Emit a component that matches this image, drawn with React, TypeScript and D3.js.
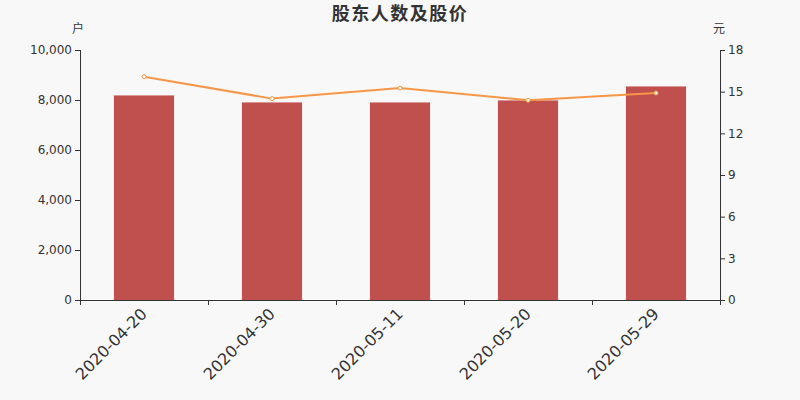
import { useMemo } from 'react';
import * as d3 from 'd3';

const dates = ['2020-04-20', '2020-04-30', '2020-05-11', '2020-05-20', '2020-05-29'];
const holders = [8200, 7920, 7920, 8000, 8560];
const prices = [16.08, 14.5, 15.26, 14.38, 14.9];
const leftTicks = [0, 2000, 4000, 6000, 8000, 10000];
const rightTicks = [0, 3, 6, 9, 12, 15, 18];

const FONT = "'DejaVu Sans', 'Noto Sans CJK SC', sans-serif";
const CJK = "'Noto Sans CJK SC', sans-serif";
const INK = '#333';

export default function App() {
  const width = 800;
  const height = 400;
  const margin = { top: 50, right: 80, bottom: 100, left: 80 };
  const innerW = width - margin.left - margin.right;
  const innerH = height - margin.top - margin.bottom;

  const { x, yL, yR, linePath } = useMemo(() => {
    const x = d3.scaleBand().domain(dates).range([0, innerW]).paddingInner(0).paddingOuter(0);
    const yL = d3.scaleLinear().domain([0, 10000]).range([innerH, 0]);
    const yR = d3.scaleLinear().domain([0, 18]).range([innerH, 0]);
    const line = d3
      .line<number>()
      .x((_, i) => (x(dates[i]) ?? 0) + x.bandwidth() / 2)
      .y((d) => yR(d));
    return { x, yL, yR, linePath: line(prices) ?? '' };
  }, [innerW, innerH]);

  const barW = x.bandwidth() * 0.47;

  return (
    <svg
      width={width}
      height={height}
      style={{ display: 'block', position: 'absolute', left: 0, top: 0, background: '#f8f8f8' }}
    >
      <rect width={width} height={height} fill='#f8f8f8' />
      <text
        x={400}
        y={20}
        textAnchor='middle'
        fontSize={18}
        letterSpacing={1.5}
        fontWeight='bold'
        fill={INK}
        fontFamily={CJK}
      >
        股东人数及股价
      </text>
      <text x={78} y={33} textAnchor='middle' fontSize={12} fill={INK} fontFamily={CJK}>
        户
      </text>
      <text x={719} y={33} textAnchor='middle' fontSize={12} fill={INK} fontFamily={CJK}>
        元
      </text>
      <g transform={`translate(${margin.left},${margin.top})`} fontFamily={FONT}>
        {/* Bars */}
        {holders.map((v, i) => {
          const cx = (x(dates[i]) ?? 0) + x.bandwidth() / 2;
          return (
            <g key={dates[i]}>
              <rect x={cx - barW / 2} y={yL(v)} width={barW} height={innerH - yL(v)} fill='#c0504d' />
              <line x1={cx - barW / 2} x2={cx + barW / 2} y1={yL(v) + 0.5} y2={yL(v) + 0.5} stroke='#d99694' strokeWidth={1} />
            </g>
          );
        })}

        {/* Line */}
        <path d={linePath} fill='none' stroke='#f79646' strokeWidth={2} />
        {prices.map((v, i) => (
          <circle
            key={dates[i]}
            cx={(x(dates[i]) ?? 0) + x.bandwidth() / 2}
            cy={yR(v)}
            r={2}
            fill='#fff'
            stroke='#f79646'
            strokeWidth={1}
          />
        ))}

        {/* Left axis */}
        <line x1={0.5} x2={0.5} y1={0} y2={innerH} stroke={INK} />
        {leftTicks.map((t) => (
          <g key={t} transform={`translate(0,${yL(t)})`}>
            <line x1={-5} x2={0} y1={0.5} y2={0.5} stroke={INK} />
            <text x={-8} dy='0.35em' textAnchor='end' fontSize={12} fill={INK}>
              {d3.format(',')(t)}
            </text>
          </g>
        ))}

        {/* Right axis */}
        <line x1={innerW + 0.5} x2={innerW + 0.5} y1={0} y2={innerH} stroke={INK} />
        {rightTicks.map((t) => (
          <g key={t} transform={`translate(${innerW},${yR(t)})`}>
            <line x1={0} x2={5} y1={0.5} y2={0.5} stroke={INK} />
            <text x={8} dy='0.35em' textAnchor='start' fontSize={12} fill={INK}>
              {t}
            </text>
          </g>
        ))}

        {/* Bottom axis */}
        <line x1={0} x2={innerW} y1={innerH + 0.5} y2={innerH + 0.5} stroke={INK} />
        {[...dates.map((d) => x(d) ?? 0), innerW].map((p, i) => (
          <line key={i} x1={p + 0.5} x2={p + 0.5} y1={innerH} y2={innerH + 5} stroke={INK} />
        ))}
        {dates.map((d) => {
          const cx = (x(d) ?? 0) + x.bandwidth() / 2;
          return (
            <text
              key={d}
              transform={`translate(${cx},${innerH + 11}) rotate(-45)`}
              textAnchor='end'
              dy='0.35em'
              fontSize={16}
              fill={INK}
            >
              {d}
            </text>
          );
        })}
      </g>
    </svg>
  );
}
